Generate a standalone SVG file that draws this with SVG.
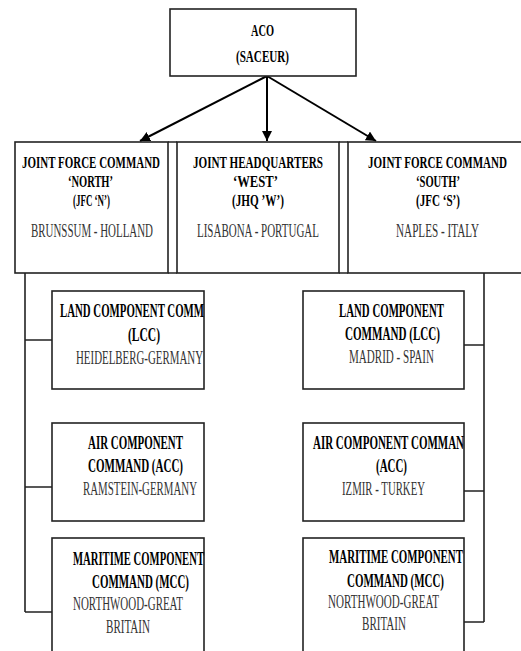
<svg xmlns="http://www.w3.org/2000/svg" width="521" height="651" viewBox="0 0 521 651">
<defs>
<marker id="ah" viewBox="0 0 10 10" refX="10" refY="5" markerWidth="5" markerHeight="5" orient="auto" markerUnits="strokeWidth">
<path d="M0,0 L10,5 L0,10 z" fill="#000"/>
</marker>
<style>
rect.box{fill:#fff;stroke:#222;stroke-width:1.6}
.b{font-weight:bold;fill:#000}
.n{font-weight:normal;fill:#333}
.ln{stroke:#222;stroke-width:1.6;fill:none}
.ar{stroke:#000;stroke-width:2;fill:none;marker-end:url(#ah)}
.top .b{font-size:16.5px}
.top .n{font-size:18px}
.kid .b{font-size:19px}
.kid .n{font-size:19px}
</style>
</defs>
<rect width="521" height="651" fill="#fff"/>
<g id="connectors">
<line class="ar" x1="267" y1="76" x2="140" y2="141"/>
<line class="ar" x1="267" y1="76" x2="267" y2="141"/>
<line class="ar" x1="267" y1="76" x2="376" y2="141"/>
<path class="ln" d="M25,273 V612 M25,340 H52 M25,487 H52 M25,612 H52"/>
<path class="ln" d="M484,273 V622 M464,345 H484 M464,491 H484 M464,622 H484"/>
<path class="ln" d="M168,142 H177 M168,273 H177 M339,142 H348 M339,273 H348"/>
</g>
<g font-family="'Liberation Serif', 'Times New Roman', serif">
<g id="aco" class="top">
<rect class="box" x="170" y="9" width="186" height="67"/>
<text class="b" x="251" y="36" textLength="23" lengthAdjust="spacingAndGlyphs">ACO</text>
<text class="b" x="236" y="62" textLength="53" lengthAdjust="spacingAndGlyphs">(SACEUR)</text>
</g>
<g id="jfc-north" class="top">
<rect class="box" x="15" y="142" width="153" height="131"/>
<text class="b" x="22" y="168" textLength="138" lengthAdjust="spacingAndGlyphs">JOINT FORCE COMMAND</text>
<text class="b" x="68" y="187" textLength="45" lengthAdjust="spacingAndGlyphs">‘NORTH’</text>
<text class="b" x="73" y="206" textLength="37" lengthAdjust="spacingAndGlyphs">(JFC ‘N’)</text>
<text class="n" x="31" y="237" textLength="122" lengthAdjust="spacingAndGlyphs">BRUNSSUM - HOLLAND</text>
</g>
<g id="jhq-west" class="top">
<rect class="box" x="177" y="142" width="162" height="131"/>
<text class="b" x="193" y="168" textLength="130" lengthAdjust="spacingAndGlyphs">JOINT HEADQUARTERS</text>
<text class="b" x="233" y="187" textLength="45" lengthAdjust="spacingAndGlyphs">‘WEST’</text>
<text class="b" x="232" y="206" textLength="52" lengthAdjust="spacingAndGlyphs">(JHQ ’W’)</text>
<text class="n" x="197" y="237" textLength="122" lengthAdjust="spacingAndGlyphs">LISABONA - PORTUGAL</text>
</g>
<g id="jfc-south" class="top">
<rect class="box" x="348" y="142" width="180" height="131"/>
<text class="b" x="368" y="168" textLength="139" lengthAdjust="spacingAndGlyphs">JOINT FORCE COMMAND</text>
<text class="b" x="416" y="187" textLength="44" lengthAdjust="spacingAndGlyphs">‘SOUTH’</text>
<text class="b" x="416" y="206" textLength="44" lengthAdjust="spacingAndGlyphs">(JFC ‘S’)</text>
<text class="n" x="396" y="237" textLength="83" lengthAdjust="spacingAndGlyphs">NAPLES - ITALY</text>
</g>
<g id="lcc-north" class="kid">
<rect class="box" x="52" y="291" width="152" height="98"/>
<text class="b" x="60" y="317" textLength="144" lengthAdjust="spacingAndGlyphs">LAND COMPONENT COMM</text>
<text class="b" x="128" y="341" textLength="32" lengthAdjust="spacingAndGlyphs">(LCC)</text>
<text class="n" x="76" y="364" textLength="127" lengthAdjust="spacingAndGlyphs">HEIDELBERG-GERMANY</text>
</g>
<g id="acc-north" class="kid">
<rect class="box" x="52" y="423" width="152" height="98"/>
<text class="b" x="88" y="449" textLength="95" lengthAdjust="spacingAndGlyphs">AIR COMPONENT</text>
<text class="b" x="88" y="472" textLength="95" lengthAdjust="spacingAndGlyphs">COMMAND (ACC)</text>
<text class="n" x="83" y="495" textLength="114" lengthAdjust="spacingAndGlyphs">RAMSTEIN-GERMANY</text>
</g>
<g id="mcc-north" class="kid">
<rect class="box" x="52" y="538" width="152" height="120"/>
<text class="b" x="73" y="565" textLength="131" lengthAdjust="spacingAndGlyphs">MARITIME COMPONENT</text>
<text class="b" x="92" y="588" textLength="97" lengthAdjust="spacingAndGlyphs">COMMAND (MCC)</text>
<text class="n" x="73" y="610" textLength="110" lengthAdjust="spacingAndGlyphs">NORTHWOOD-GREAT</text>
<text class="n" x="106" y="633" textLength="44" lengthAdjust="spacingAndGlyphs">BRITAIN</text>
</g>
<g id="lcc-south" class="kid">
<rect class="box" x="303" y="291" width="161" height="98"/>
<text class="b" x="339" y="317" textLength="105" lengthAdjust="spacingAndGlyphs">LAND COMPONENT</text>
<text class="b" x="345" y="340" textLength="95" lengthAdjust="spacingAndGlyphs">COMMAND (LCC)</text>
<text class="n" x="349" y="363" textLength="85" lengthAdjust="spacingAndGlyphs">MADRID - SPAIN</text>
</g>
<g id="acc-south" class="kid">
<rect class="box" x="303" y="423" width="161" height="98"/>
<text class="b" x="313" y="449" textLength="151" lengthAdjust="spacingAndGlyphs">AIR COMPONENT COMMAN</text>
<text class="b" x="376" y="472" textLength="31" lengthAdjust="spacingAndGlyphs">(ACC)</text>
<text class="n" x="342" y="495" textLength="83" lengthAdjust="spacingAndGlyphs">IZMIR - TURKEY</text>
</g>
<g id="mcc-south" class="kid">
<rect class="box" x="303" y="538" width="161" height="120"/>
<text class="b" x="329" y="563" textLength="134" lengthAdjust="spacingAndGlyphs">MARITIME COMPONENT</text>
<text class="b" x="347" y="587" textLength="97" lengthAdjust="spacingAndGlyphs">COMMAND (MCC)</text>
<text class="n" x="328" y="608" textLength="111" lengthAdjust="spacingAndGlyphs">NORTHWOOD-GREAT</text>
<text class="n" x="362" y="630" textLength="44" lengthAdjust="spacingAndGlyphs">BRITAIN</text>
</g>
</g>
</svg>
